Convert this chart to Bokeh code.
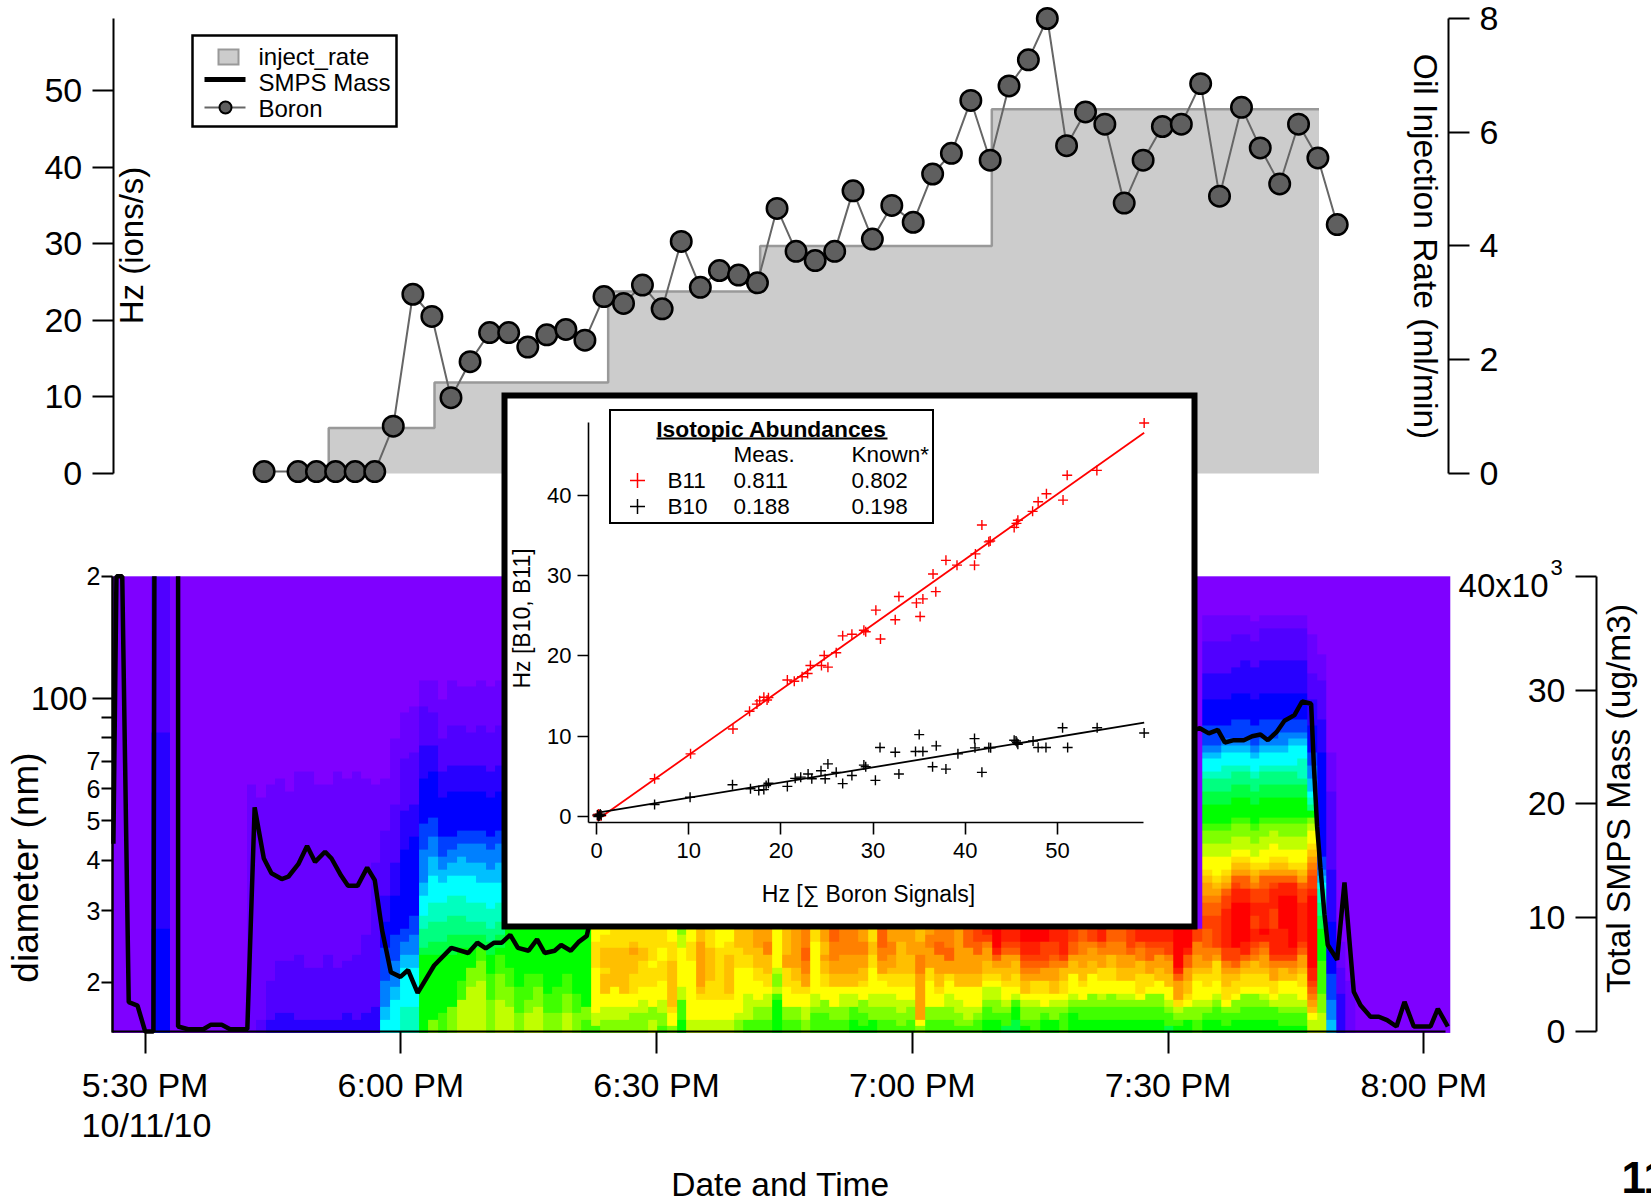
import math
import re
import numpy as np
from bokeh.core.properties import value
from bokeh.embed import file_html
from bokeh.models import FixedTicker, LinearAxis, LinearColorMapper, LogAxis, LogScale, Range1d
from bokeh.plotting import figure
from bokeh.resources import INLINE

# ---- Boron / injection (minutes after 5:30 PM) ----
boron_t = [13.96, 17.94, 20.1, 22.35, 24.64, 26.94, 29.11, 31.41, 33.64, 35.88, 38.12, 40.41, 42.65, 44.89,
           47.12, 49.36, 51.59, 53.83, 56.12, 58.34, 60.65, 62.89, 65.13, 67.37, 69.61, 71.83, 74.13, 76.36,
           78.6, 80.89, 83.04, 85.31, 87.59, 90.1, 92.38, 94.58, 96.86, 99.13, 101.34, 103.61, 105.83, 108.09,
           110.31, 112.58, 114.85, 117.07, 119.33, 121.55, 123.82, 126.03, 128.61, 130.81, 133.09, 135.3,
           137.57, 139.84]
boron_hz = [0.25, 0.25, 0.25, 0.25, 0.25, 0.25, 6.18, 23.4, 20.5, 9.9, 14.6, 18.4, 18.4, 16.5, 18.1, 18.8, 17.4,
            23.1, 22.2, 24.6, 21.5, 30.3, 24.3, 26.5, 25.9, 24.9, 34.6, 29.0, 27.8, 29.0, 36.9, 30.6, 35.0, 32.8,
            39.1, 41.8, 48.7, 40.9, 50.6, 54.0, 59.4, 42.8, 47.2, 45.6, 35.3, 40.9, 45.3, 45.6, 50.9, 36.2, 47.8,
            42.5, 37.8, 45.6, 41.2, 32.5]
inject_edges = [21.54, 33.95, 54.32, 72.15, 99.32, 137.7]
inject_rate = [0.8, 1.6, 3.2, 4.0, 6.4]

# ---- SMPS mass (x10^3 ug/m3); nan = off the top of the scale ----
nan = float("nan")
smps_t = [-3.72, -3.36, -2.68, -1.92, -0.89, 0.01, 0.98, 1.09, nan, 3.87, 3.87, 5.04, 6.83, 7.73, 8.99, 9.97, 11.99,
          12.85, 13.93, 14.82, 16.03, 16.8, 17.97, 19.0, 19.94, 21.11, 21.87, 22.99, 23.8, 24.92, 26.05, 26.94, 27.8,
          28.83, 29.95, 30.85, 31.97, 33.9, 35.92, 37.9, 38.97, 39.96, 40.95, 41.85, 42.83, 43.73, 44.99, 45.98, 46.88,
          48.04, 48.8, 49.93, 50.83, 51.81, 52.04, 123.72, 124.78, 125.83, 126.65, 127.71, 128.88, 129.86, 130.84, 131.7,
          132.71, 133.65, 134.82, 135.72, 136.78, 137.09, 137.48, 137.87, 138.34, 138.73, 139.83, 140.69, 141.78, 142.57,
          143.74, 144.72, 145.69, 146.79, 147.73, 148.82, 150.78, 151.64, 152.81]
smps_mass = [16.5, 40, 40, 2.58, 2.28, 0, 0, 40, nan, 40, 0.44, 0.2, 0.2, 0.6, 0.6, 0.2, 0.2, 19.7, 15.2, 13.9, 13.4,
             13.6, 14.7, 16.3, 14.9, 15.8, 15.2, 13.7, 12.8, 12.8, 14.4, 13.3, 8.9, 5.2, 4.8, 5.4, 3.4, 5.8, 7.35, 6.9,
             7.8, 7.3, 7.8, 7.8, 8.5, 7.35, 7.1, 8.1, 6.9, 7.1, 7.6, 7.1, 7.85, 8.4, 9.2, 26.65, 26.2, 26.5, 25.4, 25.6,
             25.6, 25.95, 26.1, 25.6, 26.3, 27.3, 27.8, 29.0, 28.8, 23.5, 18.0, 14.4, 10.3, 7.6, 6.3, 13.1, 3.5, 2.3,
             1.3, 1.3, 1.0, 0.44, 2.6, 0.44, 0.44, 2.0, 0.44]

# ---- SMPS size distribution: one run-length string per scan, smallest diameter first.
# letter = colour level (a=lowest .. y=highest), number before it = repeat count, rows above string = level a
heat_cols = [
    "", "", "", "", "16e30d24c", "16e30d24c", "", "", "", "", "", "", "", "", "38b",
    "2c34b", "2d6c30b", "3d8c28b", "3d8c26b", "2d10c28b", "2d8c30b", "2d8c28b", "2d10c26b", "2d8c30b",
    "3d8c28b", "2d10c28b", "3d12c24b", "4d22c12b",
    "2i2h4g5f4e4d10c8b", "5i2h4g4f6e5d9c10b", "4j6i2h2g2f12e6d8c7b", "4j6i2h3g3f12e5d8c7b",
    "12m1l3k2j3i2h5g4f7e5d6c4b", "2o10m2l3k3j4i3h3g3f7e4d5c5b", "3n9m2l3k3j3i2h2g3f6e4d5c6b",
    "4o8m3l3k3j3i2h2g2f7e4d6c7b", "5p3n5m2l3k3j3i3h2g2f6e4d6c6b", "7p3o3m2l2k3j4i2h3g2f6e4d5c7b",
    "8p3o2n2l2k3j3i3h3g2f6e4d6c7b", "5o4n3m2l2k3j4i2h3g2f6e4d6c7b", "5p4o3n1m2l2k3j3i3h3g2f6e4d6c7b",
    "4p3o3n6m", "3o4n9m", "3p2o4n7m", "4p3o2n7m", "3o3n10m", "3o4n9m", "3p3o3n7m", "3o3n10m", "2n2o12m",
    "1n2p7q4r2q", "2o2p2q3s1r3s2r1q", "2o2p3q6s3r", "2o2p2q7s3r", "3o1p2q3r3s1t1s2r", "3o2p2q4r2s3r",
    "2p2o3q3r1q5r", "1n2o2p3q3r2q3r", "1o2q1r7s3r2q", "2m3n2p6q2p1o", "2p9q3r2q", "2p3q1r1s7t2s", "2p3q3r5s3r",
    "2p3q8r3q", "2p3q1r6s2r2q", "2o1p7q3r3s", "2n4p4q2r4s", "2n2o1p3q2r3s3t", "2n2o2p1q2r3s2u2t",
    "5m1n1p2o1p6q", "2n2o3q3r2t4s", "2n2o2q2r2s6t", "2o2p2q1r2t2u2v3u", "3n1o2p8q2r", "3n2o2q2r2s1t2s2t",
    "2n2o2q1q2s2t3u2v", "2n2o2p1q2s3t4u", "2m2n2p1q2s3t4u", "1m2n2o2q1r2s2t2u2t", "2m2o2p4q2r2s2r",
    "2n2o2p2q1r2t2u3v", "2n2o2p1q2r1s2t2u2t", "1n2o2p2q2r5s2t", "2n2o1p2q2r3s4t",
    "1o1q7t3u2t2s", "2n2o4q2r3t2u1t", "2n2o2q1r2s3t2v2u", "2n2o2p2q1r2t2v3u", "1n2o2p2q2s7t",
    "1n1o2p3q2s4t3v", "2n1o1p3q2s3t2v2w",
    "2m2n1o2p1q1r2s2t1u1w1x", "2m1n2o2p1q1r1s1t1v1x3y", "1l2n1o1p2q1r2s2t1v1w2x", "2l2m1n1p1q2r2s1t1v1w2x",
    "1m1n2o1p1q2s1t1u1v1w2x2y", "2n2o1p1q2r1t1u1v1w2x2y", "2m1n1o2q2r2t1v3w2y", "2m2o1p1q2s2t1u1v2w2x",
    "3n1o1p1q2r2s1u1w4x", "3m1n1o1p3q2s1t2v2w", "2m2n1o1q1q1r2s2t2u2v", "2m2n2o3q2s2t1u2w", "2m2n1o1p2q2r2t1u1v2x",
    "2m2n2o2q2r2s2u2v", "2m2n1o1p2q2s2t2u2v", "2m2n1o1p2q2s2t1v3w", "2m2n1o1q3r2s2u1v2x", "2m2n2o1q2r2t2v1w2x",
    "2m2n2o2q2s2t1v1w2x", "1l2n1o1p2q2s2t1u2w2x", "1m1n1o1p1r3t1v1x6y", "2m2o1q1r2s2t2v1x3y", "2n2o1p3q1r1s2t2u2w",
    "2m1n1o1p2q2r1s1t2u3v" + "2w2v1u2t1s1r2q2p2o1n3m2l2k1j2i1h1g3f4e4d5c4b",
    "2m2n1o1p2q3r1t1u3w" + "2w2v1u1t1s1r3q2p2o1n3m2l2k1j2i1h1g3f4e4d5c4b",
    "1m2n1o1q2r2s1t1u2w3x" + "3x2w1v1t1s1r2q2p2o1n3m2l2k2j2i1h1g2f4e4d5c4b",
    "2m1n2o1q2r1s1t1v2w3y" + "4y2x1w1v1t1s1r1q2p2o1n3m2l2k1j2i1h1g3f4e4d5c3b",
    "2m2n2o1q2r1s1t1v2x2y" + "4y2x2v1t1s1r1q2p2o1n3m2l2k1j2i1h1g3f4e5d4c3b",
    "2m2n2o1q2r2s1u1v1w2x" + "2w2x2w1u1t1s1r1q2p2o1n3m2l2k1j2i1h1g3f4e5d4c3b",
    "2m2n1o1p1q2r1s2t1u1v1x1y" + "4x2w2v1t1r2q2p2o1n3m2l2k1j2i1h1g3f4e5d5c2b",
    "2m2n1p1q2r2t1u1w4x" + "3w3x1w1v1t1s1r2q2p1o1n3m2l2k1j2i1h1g3f4e5d5c2b",
    "1m2n1o2p2q2s1u1w4x" + "5y2x1v1t1s1r1q2p2o1n3m2l2k1j2i1h2g2f4e5d5c2b",
    "1m2n1o2p2q1s1t1u1w1x3y" + "5y2x1v1t1r1q1q2p2o1n3m2l2k1j3i1h1g2f4e5d5c2b",
    "1m2n1o1p2q2r1s2t1v1w2x" + "4x2w1v1t1s1r2q2p2o1n3m2l1k3j2i1h1g2f4e5d5c2b",
    "2p1q1s1t1u1v1w2x6y" + "5y1x2w1v1u1t1s1r2q1p1o1m1k1j1i2h2g2f4e4d4c6b",
    "3p3o5n5m2l2k2j1i1h1g2f16e5d6c4b",
    "2h3g4f8e8d12c6b", "6d4c4b", "8b", "", "", "", "", "", "", "", "", "", "",
]
heat_t0, heat_t1 = -3.77, 153.1
diam_min, diam_max = 15, 200
heat_palette = ["#7F00FF", "#6800FF", "#5000FF", "#2800FF", "#0000FF", "#0040FF", "#0080FF", "#00C0FF", "#00FFFF",
                "#00FFBF", "#00FF80", "#00FF40", "#00FF00", "#40FF00", "#80FF00", "#C0FF00", "#FFFF00", "#FFDF00",
                "#FFBF00", "#FFA000", "#FF8000", "#FF6000", "#FF4000", "#FF2000", "#FF0000"]

# ---- inset scatter ----
b11_x = [59.4, 51.05, 54.27, 50.6, 48.8, 47.9, 47.3, 45.7, 45.55, 45.3, 41.8, 42.7, 42.55, 41.1, 41.0, 39.1, 37.9, 36.5,
         36.8, 35.4, 34.7, 35.1, 32.8, 32.4, 30.3, 29.2, 29.0, 30.8, 27.7, 26.7, 26.0, 24.7, 25.1, 24.4, 23.2, 22.9, 22.3,
         21.45, 20.7, 18.65, 18.15, 18.5, 17.7, 17.4, 16.6, 14.8, 10.2, 6.3, 0.34, 0.2, 0.1, 0.5, 0.3]
b11_y = [49.0, 42.5, 43.1, 39.4, 40.2, 39.2, 38.0, 36.9, 36.5, 36.0, 36.3, 34.3, 34.2, 32.7, 31.3, 31.3, 31.9, 30.2,
         28.0, 27.1, 26.6, 24.9, 27.4, 24.5, 25.7, 23.0, 23.2, 22.1, 22.7, 22.5, 20.4, 20.05, 18.6, 18.8, 18.8, 17.8, 17.4,
         16.85, 17.0, 14.8, 14.85, 14.5, 14.4, 14.0, 13.1, 10.9, 7.8, 4.7, 0.05, 0.3, 0.1, 0.1, 0.2]
b10_x = [59.4, 54.3, 50.55, 51.1, 48.75, 47.9, 47.35, 45.5, 45.3, 45.7, 45.6, 42.75, 42.55, 41.8, 41.05, 41.0, 39.2, 37.9,
         36.85, 36.45, 35.4, 34.6, 35.0, 32.8, 32.4, 30.75, 30.25, 29.2, 29.0, 27.7, 26.7, 26.0, 25.1, 24.8, 24.35, 23.35,
         22.95, 22.15, 21.55, 20.7, 18.65, 18.4, 18.15, 17.6, 16.7, 14.75, 10.15, 6.3, 0.3, 0.1, 0.2, 0.5, 0.4]
b10_y = [10.4, 11.05, 11.05, 8.6, 8.6, 8.6, 9.4, 9.4, 9.5, 9.0, 9.2, 8.55, 8.6, 5.5, 8.55, 9.7, 7.8, 5.9, 8.8, 6.2, 8.1,
         8.1, 10.2, 5.3, 8.0, 8.6, 4.5, 6.2, 6.4, 5.1, 4.1, 5.5, 6.55, 4.7, 5.7, 4.7, 5.3, 4.9, 4.75, 3.75, 4.15, 3.85, 3.35,
         3.25, 3.45, 3.95, 2.4, 1.5, 0.1, 0.2, 0.0, 0.15, 0.3]
b11_fit_x = [0.73, 59.4]
b11_fit_y = [0.12, 47.8]
b10_fit_x = [0.33, 59.4]
b10_fit_y = [0.5, 11.7]

# ---- tick labels ----
hz_ticks = [0, 10, 20, 30, 40, 50]
rate_ticks = [0, 2, 4, 6, 8]
mass_ticks = [0, 10, 20, 30, 40]
time_ticks = [0, 30, 60, 90, 120, 150]
time_labels = ["5:30 PM", "6:00 PM", "6:30 PM", "7:00 PM", "7:30 PM", "8:00 PM"]
diam_small_ticks = [20, 30, 40, 50, 60, 70, 80, 90, 200]
diam_small_labels = ["2", "3", "4", "5", "6", "7", "", "", "2"]
inset_x_ticks = [0, 10, 20, 30, 40, 50]
inset_y_ticks = [0, 10, 20, 30, 40]

# ---- page geometry: the canvas starts at the picture's corner ----
W, H = 1651, 1202
FONT = value("Liberation Sans")


def canvas_span(v_at, first, last):
    return Range1d(start=v_at(first), end=v_at(last))


x_t = lambda X: (X - 144.6) / 8.525
x_in = lambda X: (X - 596.0) / 9.22
y_hz = lambda Y: (473.0 - Y) / 7.66
y_rate = lambda Y: (473.0 - Y) / 56.9
y_mass = lambda Y: (1031.0 - Y) / 11.38
y_in = lambda Y: (816.0 - Y) / 8.03
y_diam = lambda Y: 10 ** (2 + (698.0 - Y) / 405.9)

p = figure(width=W, height=H, output_backend="svg", toolbar_location=None, min_border=0,
           x_range=Range1d(0, W), y_range=Range1d(H, 0), x_axis_type=None, y_axis_type=None,
           outline_line_color=None)
p.extra_x_ranges = {"t": canvas_span(x_t, 0, W), "ix": canvas_span(x_in, 0, W)}
p.extra_y_ranges = {
    "hz": canvas_span(y_hz, H, 0), "rate": canvas_span(y_rate, H, 0),
    "mass": canvas_span(y_mass, H, 0), "iy": canvas_span(y_in, H, 0),
    "diam": canvas_span(y_diam, H, 0),
}
p.extra_y_scales = {"diam": LogScale()}


def txt(X, Y, s, size=33, angle=0.0, align="center", base="middle", style="normal", color="black"):
    p.text([X], [Y], text=[s], text_font=FONT, text_font_size=f"{size}px", angle=angle,
           text_align=align, text_baseline=base, text_font_style=style, text_color=color)


def seg(X0, Y0, X1, Y1, color="black", width=2.0):
    p.segment([X0], [Y0], [X1], [Y1], line_color=color, line_width=width)


def box(X0, Y0, X1, Y1, fill, line, width):
    p.quad(left=[X0], right=[X1], top=[Y0], bottom=[Y1], fill_color=fill,
           line_color=line, line_width=width, line_join="miter")


# ---- heat map ----
nrows = 70
grid = np.zeros((nrows, len(heat_cols)))
for c, col in enumerate(heat_cols):
    r = 0
    for count, letter in re.findall(r"(\d*)([a-y])", col):
        n = int(count) if count else 1
        grid[r:r + n, c] = ord(letter) - ord("a")
        r += n
mapper = LinearColorMapper(palette=heat_palette, low=0, high=25)
p.image(image=[grid], x=heat_t0, y=diam_min, dw=heat_t1 - heat_t0, dh=diam_max - diam_min, color_mapper=mapper,
        x_range_name="t", y_range_name="diam")

# ---- injection rate ----
step_x, step_y = [], []
for i, rate in enumerate(inject_rate):
    step_x += [inject_edges[i], inject_edges[i + 1]]
    step_y += [rate, rate]
p.varea(x=step_x, y1=[0] * len(step_x), y2=step_y, fill_color="#CCCCCC", x_range_name="t", y_range_name="rate")
p.line([step_x[0]] + step_x, [0] + step_y, line_color="#999999", line_width=2.5, x_range_name="t", y_range_name="rate")

# ---- SMPS mass and boron ----
p.line(smps_t, smps_mass, line_color="black", line_width=4.5, x_range_name="t", y_range_name="mass")
p.line(boron_t, boron_hz, line_color="#666666", line_width=2, x_range_name="t", y_range_name="hz")
p.scatter(boron_t, boron_hz, marker="circle", size=20.5, fill_color="#5F5F5F", line_color="black", line_width=2.5,
          x_range_name="t", y_range_name="hz")

# ---- legend of the top panel ----
box(192, 35, 396, 126, "white", "black", 2.5)
box(218, 49, 238, 64, "#CCCCCC", "#999999", 2)
seg(204, 79, 245, 79, "black", 5)
seg(204, 107, 245, 107, "#666666", 2)
p.scatter([225], [107], marker="circle", size=12, fill_color="#5F5F5F", line_color="black", line_width=2)
txt(258, 56, "inject_rate", 24, align="left")
txt(258, 82, "SMPS Mass", 24, align="left")
txt(258, 108, "Boron", 24, align="left")

# ---- axes of the main panels ----
AX = dict(axis_line_color="black", axis_line_width=2, major_tick_line_color="black", major_tick_line_width=2,
          major_tick_in=0, minor_tick_line_color=None, major_label_text_font="Liberation Sans",
          major_label_text_color="black")


def style(axis, size, out, standoff):
    for k, v in AX.items():
        setattr(axis, k, v)
    axis.major_label_text_font_size = f"{size}px"
    axis.major_tick_out = out
    axis.major_label_standoff = standoff


a = LinearAxis(y_range_name="hz", fixed_location=112.7, bounds=(0, 59.4), ticker=FixedTicker(ticks=hz_ticks))
style(a, 34, 21, 10)
p.add_layout(a, "left")

a = LinearAxis(y_range_name="rate", fixed_location=1448, bounds=(0, 8), ticker=FixedTicker(ticks=rate_ticks))
style(a, 34, 21, 10)
p.add_layout(a, "right")

a = LinearAxis(y_range_name="mass", fixed_location=1596, bounds=(0, 40), ticker=FixedTicker(ticks=mass_ticks))
style(a, 34, 21, 10)
a.major_label_overrides = {40: ""}
p.add_layout(a, "left")

a = LogAxis(y_range_name="diam", fixed_location=112, bounds=(diam_min, diam_max),
            ticker=FixedTicker(ticks=diam_small_ticks))
style(a, 25, 11, 1)
a.major_label_overrides = dict(zip(diam_small_ticks, diam_small_labels))
p.add_layout(a, "left")

a = LogAxis(y_range_name="diam", fixed_location=112, bounds=(diam_min, diam_max), ticker=FixedTicker(ticks=[100]))
style(a, 34, 20, 5)
a.major_label_overrides = {100: "100"}
p.add_layout(a, "left")

a = LinearAxis(x_range_name="t", fixed_location=1031, bounds=(x_t(112), x_t(1445)),
               ticker=FixedTicker(ticks=time_ticks))
style(a, 34, 22, 12)
a.major_label_overrides = dict(zip(time_ticks, time_labels))
p.add_layout(a, "below")

# ---- axis titles and loose texts of the main panels ----
txt(131, 245, "Hz (ions/s)", 33, angle=math.pi / 2)
txt(1425, 246, "Oil Injection Rate (ml/min)", 33.5, angle=-math.pi / 2)
txt(25, 867, "diameter (nm)", 37, angle=math.pi / 2)
txt(1618, 798, "Total SMPS Mass (ug/m3)", 33.5, angle=math.pi / 2)
txt(1548, 585, "40x10", 33, align="right")
txt(1550, 567, "3", 22, align="left")
txt(146, 1124, "10/11/10", 34)
txt(780, 1184, "Date and Time", 33.5)
txt(1621, 1177, "11", 44, align="left", base="middle", style="bold")

# ---- inset ----
box(504, 395, 1194, 926, "white", "black", 6)
p.line(b11_fit_x, b11_fit_y, line_color="#FF0000", line_width=1.8, x_range_name="ix", y_range_name="iy")
p.line(b10_fit_x, b10_fit_y, line_color="black", line_width=1.8, x_range_name="ix", y_range_name="iy")
p.scatter(b11_x, b11_y, marker="cross", size=10, line_color="#FF0000", line_width=1.4, x_range_name="ix", y_range_name="iy")
p.scatter(b10_x, b10_y, marker="cross", size=10, line_color="black", line_width=1.4, x_range_name="ix", y_range_name="iy")

a = LinearAxis(y_range_name="iy", fixed_location=588, bounds=(y_in(821.7), y_in(422)),
               ticker=FixedTicker(ticks=inset_y_ticks))
style(a, 22, 11, 6)
a.axis_line_width = 1.6
a.major_tick_line_width = 1.6
p.add_layout(a, "left")

a = LinearAxis(x_range_name="ix", fixed_location=821.7, bounds=(x_in(588), x_in(1143)),
               ticker=FixedTicker(ticks=inset_x_ticks))
style(a, 22, 12, 9)
a.axis_line_width = 1.6
a.major_tick_line_width = 1.6
p.add_layout(a, "below")

txt(868, 893, "Hz [∑ Boron Signals]", 23)
txt(521, 618, "Hz [B10, B11]", 23, angle=math.pi / 2)

box(609.5, 409.5, 932.5, 522.5, "white", "black", 2)
txt(771, 428, "Isotopic Abundances", 22.8, style="bold")
seg(656, 438, 887, 438, "black", 2)
txt(733, 454, "Meas.", 22.5, align="left")
txt(851, 454, "Known*", 22.5, align="left")
txt(667, 480, "B11", 22.5, align="left")
txt(733, 480, "0.811", 22.5, align="left")
txt(851, 480, "0.802", 22.5, align="left")
txt(667, 506, "B10", 22.5, align="left")
txt(733, 506, "0.188", 22.5, align="left")
txt(851, 506, "0.198", 22.5, align="left")
p.scatter([637], [480], marker="cross", size=15, line_color="#FF0000", line_width=1.5)
p.scatter([637], [506], marker="cross", size=15, line_color="black", line_width=1.5)

open("out.html", "w").write(file_html(p, INLINE))
